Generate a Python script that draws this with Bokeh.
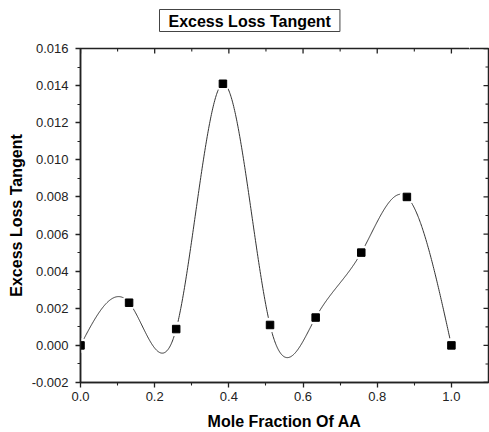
import numpy as np
from bokeh.plotting import figure
from bokeh.models import (Range1d, LinearAxis, FixedTicker, PrintfTickFormatter, ColumnDataSource)
from bokeh.embed import file_html
from bokeh.resources import INLINE

# ---- data ----
mole_fraction = [0.0, 0.131, 0.258, 0.384, 0.511, 0.634, 0.757, 0.880, 1.0]
excess_loss_tangent = [0.0, 0.0023, 0.00088, 0.0141, 0.0011, 0.0015, 0.0050, 0.0080, 0.0]

x_major = [0.0, 0.2, 0.4, 0.6, 0.8, 1.0]
x_minor = [0.1, 0.3, 0.5, 0.7, 0.9]
y_major = [-0.002, 0.0, 0.002, 0.004, 0.006, 0.008, 0.010, 0.012, 0.014, 0.016]
y_minor = [-0.001, 0.001, 0.003, 0.005, 0.007, 0.009, 0.011, 0.013, 0.015]
x_lim = (0.0, 1.1)
y_lim = (-0.002, 0.016)

title_text = "Excess Loss Tangent"
x_label = "Mole Fraction Of AA"
y_label = "Excess Loss Tangent"


def natural_cubic_spline(xs, ys, n=800):
    xs = np.asarray(xs, float)
    ys = np.asarray(ys, float)
    N = len(xs)
    h = np.diff(xs)
    A = np.zeros((N, N))
    r = np.zeros(N)
    A[0, 0] = 1.0
    A[-1, -1] = 1.0
    for i in range(1, N - 1):
        A[i, i - 1] = h[i - 1]
        A[i, i] = 2 * (h[i - 1] + h[i])
        A[i, i + 1] = h[i]
        r[i] = 3 * ((ys[i + 1] - ys[i]) / h[i] - (ys[i] - ys[i - 1]) / h[i - 1])
    c = np.linalg.solve(A, r)
    b = (ys[1:] - ys[:-1]) / h - h * (2 * c[:-1] + c[1:]) / 3
    d = (c[1:] - c[:-1]) / (3 * h)
    xx = np.linspace(xs[0], xs[-1], n)
    idx = np.clip(np.searchsorted(xs, xx, side="right") - 1, 0, N - 2)
    t = xx - xs[idx]
    yy = ys[idx] + b[idx] * t + c[idx] * t ** 2 + d[idx] * t ** 3
    return xx, yy


cx, cy = natural_cubic_spline(mole_fraction, excess_loss_tangent)

FONT = "Liberation Sans"
AXC = "#222222"

p = figure(width=489, height=432, output_backend="svg", toolbar_location=None,
           x_range=Range1d(*x_lim), y_range=Range1d(*y_lim),
           min_border_left=80, min_border_right=1, min_border_top=48, min_border_bottom=49,
           x_axis_label=x_label, y_axis_label=y_label, title=title_text)

bottom_axis = p.below[0]
left_axis = p.left[0]

# spacer above the frame: one white (invisible) outward tick that reserves room,
# so the boxed title sits higher, as in the reference
spacer = LinearAxis(ticker=FixedTicker(ticks=[1.05], minor_ticks=[]),
                    axis_line_color=None, major_tick_line_color="white",
                    minor_tick_line_color=None, major_tick_in=0, major_tick_out=17,
                    minor_tick_in=0, minor_tick_out=0,
                    major_label_text_color=None, major_label_text_font_size="0px",
                    major_label_standoff=0)
p.add_layout(spacer, "above")

p.title.text_font = FONT
p.title.text_font_size = "16px"
p.title.text_font_style = "bold"
p.title.text_color = "black"
p.title.align = "left"
p.title.offset = 79
p.title.standoff = 0
p.title.border_line_color = "#444444"
p.title.border_line_width = 1
p.title.background_fill_color = "white"
p.title.padding = dict(left=9, right=9, top=3, bottom=2)

p.xgrid.visible = False
p.ygrid.visible = False
p.outline_line_color = AXC
p.outline_line_width = 1.5
p.background_fill_color = "white"
p.border_fill_color = "white"

for ax in (bottom_axis, left_axis):
    ax.axis_line_color = AXC
    ax.axis_line_width = 1.5
    ax.major_tick_line_color = AXC
    ax.minor_tick_line_color = AXC
    ax.major_tick_line_width = 1.3
    ax.minor_tick_line_width = 1.1
    ax.major_tick_in = 0
    ax.major_tick_out = 5
    ax.minor_tick_in = 0
    ax.minor_tick_out = 3
    ax.major_label_text_font = FONT
    ax.major_label_text_font_size = "13px"
    ax.major_label_text_color = "#222222"
    ax.axis_label_text_font = FONT
    ax.axis_label_text_font_size = "16px"
    ax.axis_label_text_font_style = "bold"
    ax.axis_label_text_color = "black"

bottom_axis.ticker = FixedTicker(ticks=x_major, minor_ticks=x_minor)
bottom_axis.formatter = PrintfTickFormatter(format="%.1f")
bottom_axis.major_label_standoff = 4
bottom_axis.axis_label_standoff = 9
left_axis.ticker = FixedTicker(ticks=y_major, minor_ticks=y_minor)
left_axis.formatter = PrintfTickFormatter(format="%.3f")
left_axis.major_label_standoff = 7
left_axis.axis_label_standoff = 4

# inward ticks on the top and right frame edges (half of each dash is clipped by the frame)
p.scatter(x_major, [y_lim[1]] * len(x_major), marker="dash", angle=np.pi / 2, size=10,
          line_color=AXC, line_width=1.3)
p.scatter(x_minor, [y_lim[1]] * len(x_minor), marker="dash", angle=np.pi / 2, size=6,
          line_color=AXC, line_width=1.1)
p.scatter([x_lim[1]] * len(y_major), y_major, marker="dash", size=10,
          line_color=AXC, line_width=1.3)
p.scatter([x_lim[1]] * len(y_minor), y_minor, marker="dash", size=6,
          line_color=AXC, line_width=1.1)

p.line(cx, cy, line_color="#333333", line_width=1.0)
src = ColumnDataSource(dict(x=mole_fraction, y=excess_loss_tangent))
p.scatter("x", "y", source=src, marker="circle", size=15, fill_color="white", line_color=None)
p.scatter("x", "y", source=src, marker="square", size=7.5, fill_color="black", line_color="black")

open("out.html", "w").write(file_html(p, INLINE))
